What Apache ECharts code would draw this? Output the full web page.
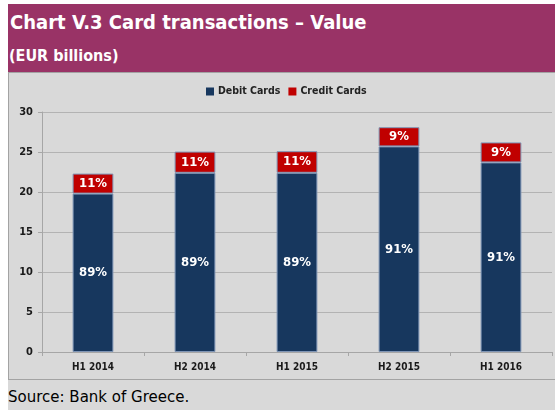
<!DOCTYPE html>
<html>
<head>
<meta charset="utf-8">
<script src="https://cdn.jsdelivr.net/npm/echarts@6/dist/echarts.min.js"></script>
<style>
  body { margin: 0; background: #fff; width: 555px; height: 410px; overflow: hidden; }
  #page { position: absolute; left: 8px; top: 4px; width: 547px; height: 406px; background: #d9d9d9; }
  #hdr { position: absolute; left: 0; top: 0; width: 547px; height: 68px; background: #993366; color: #fff; font-family: 'DejaVu Sans Condensed', 'DejaVu Sans', sans-serif; font-weight: bold; }
  #title { position: absolute; left: 2px; top: 6px; font-size: 20px; white-space: nowrap; }
  #sub { position: absolute; left: 1px; top: 42px; font-size: 16px; white-space: nowrap; }
  #box { position: absolute; left: 0; top: 68px; width: 547px; height: 308px; box-sizing: border-box; border: 1px solid #a3a3a3; border-right: none; }
  #chart { position: absolute; left: 0; top: 0; width: 546px; height: 306px; }
  #src { position: absolute; left: 0; top: 384px; font-family: 'DejaVu Sans', sans-serif; font-size: 15px; color: #000; white-space: nowrap; }
</style>
</head>
<body>
<div id="page">
  <div id="hdr">
    <div id="title">Chart V.3 Card transactions – Value</div>
    <div id="sub">(EUR billions)</div>
  </div>
  <div id="box"><div id="chart"></div></div>
  <div id="src">Source: Bank of Greece.</div>
</div>
<script>
// data
const periods = ['H1 2014', 'H2 2014', 'H1 2015', 'H2 2015', 'H1 2016']
const debitCards = [19.8, 22.4, 22.4, 25.7, 23.7]
const creditCards = [2.5, 2.65, 2.7, 2.4, 2.5]
const debitShare = ['89%', '89%', '89%', '91%', '91%']
const creditShare = ['11%', '11%', '11%', '9%', '9%']
const yTicks = { min: 0, max: 30, interval: 5 }

const font = "'DejaVu Sans Condensed', 'DejaVu Sans', sans-serif"
const chart = echarts.init(document.getElementById('chart'), null, { renderer: 'canvas' })

// shared bar styling
const barLabel = (texts) => ({
  show: true,
  position: 'inside',
  color: '#fff',
  fontFamily: font,
  fontWeight: 'bold',
  fontSize: 13,
  formatter: (p) => texts[p.dataIndex],
})

chart.setOption({
  animation: false,
  backgroundColor: 'transparent',
  textStyle: { fontFamily: font },
  legend: {
    top: 8,
    left: 192,
    itemWidth: 8,
    itemHeight: 8,
    itemGap: 8,
    icon: 'rect',
    itemStyle: { borderWidth: 0 },
    textStyle: { fontFamily: font, fontWeight: 'bold', fontSize: 10.5, color: '#222', padding: [0, 0, 0, -1] },
    data: ['Debit Cards', 'Credit Cards'],
  },
  grid: { left: 33, right: 3, top: 39, bottom: 27 },
  xAxis: {
    type: 'category',
    data: periods,
    axisLine: { lineStyle: { color: '#a6a6a6' } },
    axisTick: { show: true, length: 4, lineStyle: { color: '#a6a6a6' } },
    axisLabel: { fontFamily: font, fontWeight: 'bold', fontSize: 10, color: '#1a1a1a', margin: 10 },
  },
  yAxis: {
    type: 'value',
    ...yTicks,
    axisLine: { show: true, lineStyle: { color: '#a6a6a6' } },
    axisTick: { show: true, length: 4, lineStyle: { color: '#a6a6a6' } },
    axisLabel: { fontFamily: font, fontWeight: 'bold', fontSize: 11, color: '#1a1a1a', margin: 9 },
    splitLine: { lineStyle: { color: '#b3b3b3' } },
  },
  series: [
    {
      name: 'Debit Cards',
      type: 'bar',
      stack: 'cards',
      barWidth: '40%',
      data: debitCards,
      itemStyle: { color: '#17375e', borderColor: '#7f95b5', borderWidth: 1 },
      label: barLabel(debitShare),
    },
    {
      name: 'Credit Cards',
      type: 'bar',
      stack: 'cards',
      data: creditCards,
      itemStyle: { color: '#c00000', borderColor: '#7f95b5', borderWidth: 1 },
      label: barLabel(creditShare),
    },
  ],
})
</script>
</body>
</html>
